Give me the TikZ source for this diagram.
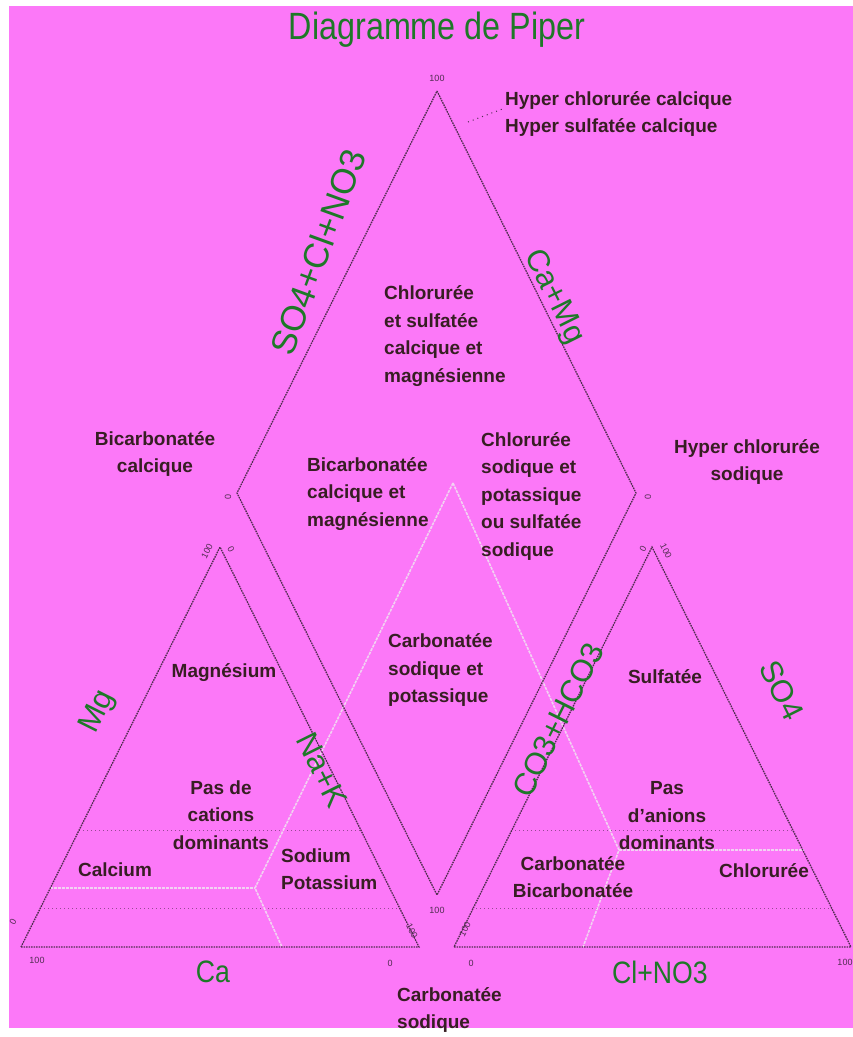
\documentclass[tikz,border=0pt]{standalone}
\usepackage{fontspec}
\setmainfont{Liberation Sans}
\definecolor{bg}{RGB}{252,120,248}
\definecolor{ink}{RGB}{55,30,35}
\definecolor{grn}{RGB}{30,120,40}
\definecolor{edgecol}{RGB}{80,45,80}
\definecolor{pale}{RGB}{242,210,242}
\begin{document}
\begin{tikzpicture}[x=1pt,y=-1pt,
  lab/.style={text=ink, font=\fontsize{19}{27.5}\selectfont\bfseries, inner sep=0pt},
  glab/.style={text=grn, font=\fontsize{31}{31}\selectfont, inner sep=0pt},
  tick/.style={text=edgecol, font=\fontsize{9}{9}\selectfont, inner sep=0pt},
  edgeline/.style={draw=edgecol, line width=1.3pt, dash pattern=on 1.6pt off 0.9pt},
  gridline/.style={draw=edgecol!60!bg, line width=0.9pt, dash pattern=on 1pt off 3pt},
  classline/.style={draw=pale, line width=1.6pt, dash pattern=on 3pt off 1pt},
  leader/.style={draw=edgecol, line width=1pt, dash pattern=on 1pt off 4pt}]
\useasboundingbox (0,0) rectangle (853,1037);
\fill[white] (0,0) rectangle (853,1037);
\fill[bg] (9,6) rectangle (853,1028);

% vertices
\coordinate (L1) at (21,947);
\coordinate (L2) at (419,947);
\coordinate (L3) at (220,547);
\coordinate (R1) at (454,947);
\coordinate (R2) at (851,947);
\coordinate (R3) at (652,547);
\coordinate (DT) at (437,91);
\coordinate (DL) at (237,493);
\coordinate (DR) at (636,493);
\coordinate (DB) at (437,895);

% grid dotted lines
\coordinate (g1a) at (79,830); \coordinate (g1b) at (361,830);
\coordinate (g2a) at (40,908); \coordinate (g2b) at (400,908);
\coordinate (g3a) at (511,830); \coordinate (g3b) at (793,830);
\coordinate (g4a) at (472,908); \coordinate (g4b) at (832,908);
\draw[gridline] (g1a) -- (g1b);
\draw[gridline] (g2a) -- (g2b);
\draw[gridline] (g3a) -- (g3b);
\draw[gridline] (g4a) -- (g4b);

% classification lines
\coordinate (J0) at (453,483);
\coordinate (JL) at (255,888);
\coordinate (JLb) at (282,947);
\coordinate (HL) at (50,888);
\coordinate (JR) at (619,850);
\coordinate (JRb) at (583,947);
\coordinate (HR) at (804,850);
\draw[classline] (J0) -- (JL) -- (JLb);
\draw[classline] (HL) -- (JL);
\draw[classline] (J0) -- (JR) -- (JRb);
\draw[classline] (JR) -- (HR);

% triangles and diamond
\draw[edgeline] (L1) -- (L2) -- (L3) -- cycle;
\draw[edgeline] (R1) -- (R2) -- (R3) -- cycle;
\draw[edgeline] (DT) -- (DR) -- (DB) -- (DL) -- cycle;

% leader
\coordinate (ld1) at (468,122);
\coordinate (ld2) at (505,108);
\draw[leader] (ld1) -- (ld2);

% tick labels
\node[tick] (t1) at (437,78) {100};
\node[tick,rotate=90] (t2) at (228,497) {0};
\node[tick,rotate=-90] (t3) at (648,497) {0};
\node[tick] (t4) at (437,910) {100};
\node[tick,rotate=63] (t5) at (207,551) {100};
\node[tick,rotate=-63] (t6) at (231,549) {0};
\node[tick,rotate=63] (t7) at (13,922) {0};
\node[tick] (t8) at (37,960) {100};
\node[tick,rotate=-63] (t9) at (412,931) {100};
\node[tick] (t10) at (390,963) {0};
\node[tick,rotate=63] (t11) at (465,929) {100};
\node[tick] (t12) at (471,963) {0};
\node[tick,rotate=63] (t13) at (643,549) {0};
\node[tick,rotate=-63] (t14) at (666,551) {100};
\node[tick] (t15) at (845,962) {100};

% title and axis labels
\node[text=grn, font=\fontsize{38}{38}\selectfont, inner sep=0pt, xscale=0.85] (title) at (437,30) {Diagramme de Piper};
\node[glab, font=\fontsize{35}{35}\selectfont, rotate=70] (aSO4Cl) at (318,252) {SO4+Cl+NO3};
\node[glab, rotate=-63.5] (aCaMg) at (554,297) {Ca+Mg};
\node[glab, rotate=63.5] (aMg) at (98,712) {Mg};
\node[glab, rotate=-63.5] (aNaK) at (322,770) {Na+K};
\node[glab, rotate=63.5] (aCO3) at (558,720) {CO3+HCO3};
\node[glab, rotate=-63.5] (aSO4) at (782,690) {SO4};
\node[glab, xscale=0.86] (aCa) at (213,972) {Ca};
\node[glab, xscale=0.86] (aCl) at (660,972) {Cl+NO3};

% region labels
\node[lab, align=left, anchor=west] (n1) at (505,114) {Hyper chlorurée calcique\\Hyper sulfatée calcique};
\node[lab, align=left, anchor=west] (n2) at (384,336) {Chlorurée\\et sulfatée\\calcique et\\magnésienne};
\node[lab, align=center] (n3) at (155,454) {Bicarbonatée\\calcique};
\node[lab, align=left, anchor=west] (n4) at (307,494) {Bicarbonatée\\calcique et\\magnésienne};
\node[lab, align=left, anchor=west] (n5) at (481,496) {Chlorurée\\sodique et\\potassique\\ou sulfatée\\sodique};
\node[lab, align=center] (n6) at (747,462) {Hyper chlorurée\\sodique};
\node[lab, align=left, anchor=west] (n7) at (388,670) {Carbonatée\\sodique et\\potassique};
\node[lab] (n8) at (224,673) {Magnésium};
\node[lab] (n9) at (665,677) {Sulfatée};
\node[lab, align=center] (n10) at (221,815) {Pas de\\cations\\dominants};
\node[lab, align=center] (n11) at (667,816) {Pas\\d'anions\\dominants};
\node[lab] (n12) at (115,870) {Calcium};
\node[lab, align=left, anchor=west] (n13) at (281,869) {Sodium\\Potassium};
\node[lab, align=center] (n14) at (573,877) {Carbonatée\\Bicarbonatée};
\node[lab] (n15) at (764,871) {Chlorurée};
\node[lab, align=left, anchor=west] (n16) at (397,1010) {Carbonatée\\sodique};
\end{tikzpicture}
\end{document}
